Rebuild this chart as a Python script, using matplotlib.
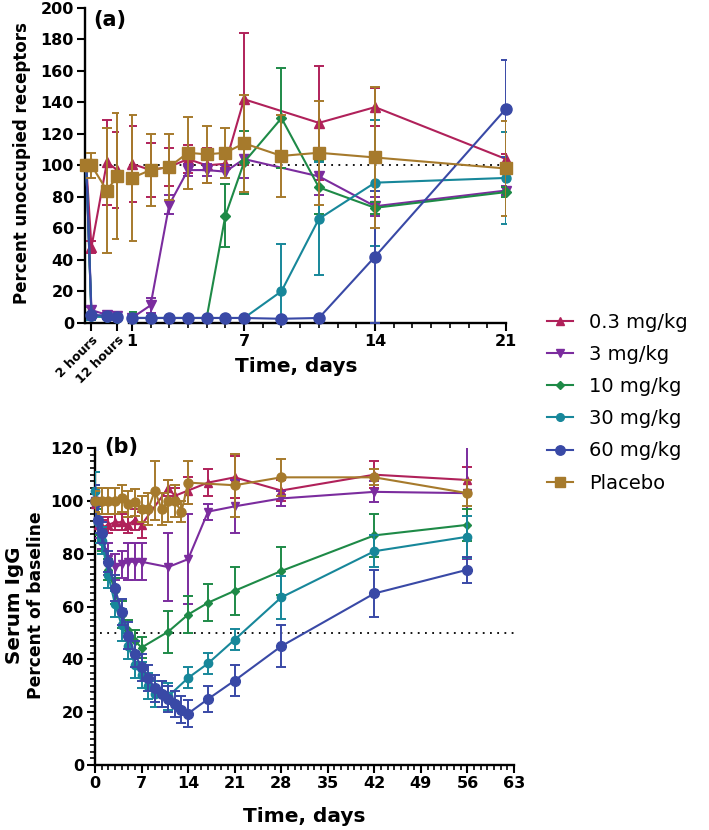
import numpy as np
import matplotlib
matplotlib.use("Agg")
import matplotlib.pyplot as plt
from matplotlib.ticker import MultipleLocator, FixedLocator

# ---------------- data ----------------
dose_labels = ["0.3 mg/kg", "3 mg/kg", "10 mg/kg", "30 mg/kg", "60 mg/kg", "Placebo"]

# Panel (a): receptor occupancy - hours segment
hours_a = [0, 2, 8, 12]
a_h_03 = [100, 48, 102, 97];   a_h_03_err = [0, 4, 27, 24]
a_h_3 = [100, 8, 5, 4];        a_h_3_err = [0, 2, 1, 1]
a_h_10 = [100, 4, 4, 3];       a_h_10_err = [0, 1, 1, 1]
a_h_30 = [100, 4, 3.5, 3];     a_h_30_err = [0, 2, 1, 1]
a_h_60 = [100, 5, 4.5, 3.5];   a_h_60_err = [0, 1, 1, 1]
a_h_pl = [100, 100, 84, 93];   a_h_pl_err = [0, 8, 40, 40]

# Panel (a): days segment
a_d_03_days = [1, 2, 3, 4, 5, 6, 7, 11, 14, 21]
a_d_03 = [101, 97, 99, 104, 100, 101, 142, 127, 137, 104]
a_d_03_err = [24, 17, 12, 9, 11, 9, 42, 36, 12, 3]
a_d_3_days = [1, 2, 3, 4, 5, 6, 7, 11, 14, 21]
a_d_3 = [3, 11, 75, 97, 97, 96, 104, 93, 74, 84]
a_d_3_err = [1, 5, 6, 4, 4, 4, 12, 12, 6, 3]
a_d_10_days = [1, 2, 3, 4, 5, 6, 7, 9, 11, 14, 21]
a_d_10 = [3, 3, 3, 3, 3, 68, 102, 130, 86, 73, 83]
a_d_10_err = [4, 0, 0, 0, 0, 20, 20, 32, 17, 4, 3]
a_d_30_days = [1, 2, 3, 4, 5, 6, 7, 9, 11, 14, 21]
a_d_30 = [3, 3, 3, 3, 3, 3, 3, 20, 66, 89, 92]
a_d_30_err = [0, 0, 0, 0, 0, 0, 0, 30, 36, 40, 29]
a_d_60_days = [1, 2, 3, 4, 5, 6, 7, 9, 11, 14, 21]
a_d_60 = [3, 3, 3, 3, 3, 3, 3, 2.5, 3, 42, 136]
a_d_60_err = [0, 0, 0, 0, 0, 0, 0, 0, 0, 42, 31]
a_d_pl_days = [1, 2, 3, 4, 5, 6, 7, 9, 11, 14, 21]
a_d_pl = [92, 97, 99, 108, 107, 108, 114, 106, 108, 105, 98]
a_d_pl_err = [40, 23, 21, 23, 18, 16, 31, 26, 33, 45, 30]

# Panel (b): serum IgG, percent of baseline
b_03_days = [0, 0.5, 1, 2, 3, 4, 5, 6, 7, 11, 12, 14, 17, 21, 28, 42, 56]
b_03 = [99, 91, 90, 91, 92, 92, 91, 93, 91, 105, 102, 104, 107, 109, 104, 110, 108]
b_03_err = [4, 4, 3, 3, 3, 3, 3, 4, 5, 3, 3, 5, 5, 8, 4, 5, 5]
b_3_days = [0, 0.5, 1, 2, 3, 4, 5, 6, 7, 11, 14, 17, 21, 28, 42, 56]
b_3 = [100, 90, 86, 78, 75, 76, 77, 77, 77, 75, 78, 96, 98, 101, 103.5, 103]
b_3_err = [5, 4, 4, 6, 5, 5, 7, 7, 7, 13, 17, 3, 10, 3, 4, 25]
b_10_days = [0, 0.5, 1, 2, 3, 4, 5, 6, 7, 11, 14, 17, 21, 28, 42, 56]
b_10 = [100, 92, 85, 74, 66, 57, 51, 47, 44.5, 50.5, 57, 61.5, 66, 73.5, 87, 91]
b_10_err = [6, 5, 4, 4, 5, 5, 4, 4, 4, 8, 7, 7, 9, 9, 8, 6]
b_30_days = [0, 0.5, 1, 2, 3, 4, 5, 6, 7, 8, 9, 10, 11, 14, 17, 21, 28, 42, 56]
b_30 = [104, 92, 85, 72, 61, 53, 45, 38, 34, 30, 27, 27, 26, 33, 38.5, 47.5, 63.5, 81, 86.5]
b_30_err = [7, 8, 5, 5, 5, 6, 5, 5, 5, 5, 5, 5, 5, 4, 4, 4, 8, 6, 8]
b_60_days = [0, 0.5, 1, 2, 3, 4, 5, 6, 7, 8, 9, 10, 11, 12, 13, 14, 17, 21, 28, 42, 56]
b_60 = [100, 93, 88, 77, 67, 58, 49, 42, 37, 33, 29, 27, 25, 23, 21, 19.5, 25, 32, 45, 65, 74]
b_60_err = [6, 5, 4, 4, 5, 5, 5, 5, 5, 5, 5, 5, 5, 5, 5, 5, 5, 6, 8, 9, 5]
b_pl_days = [0, 1, 2, 3, 4, 5, 6, 7, 8, 9, 10, 11, 12, 13, 14, 21, 28, 42, 56]
b_pl = [100, 100, 100, 100, 101, 99, 99.5, 97, 97, 104, 97, 100, 100, 96, 107, 106, 109, 109, 103]
b_pl_err = [4, 5, 5, 5, 5, 5, 5, 5, 6, 11, 6, 8, 6, 4, 8, 12, 7, 3, 5]

# ---------------- styles ----------------
colors = ["#B0215A", "#7B2C9E", "#1E8A47", "#17879A", "#3949A6", "#A67A2C"]
markers_a = ["^", "v", "D", "o", "o", "s"]
markers_b = ["^", "v", "D", "o", "o", "o"]
msizes_a = [7, 7, 5, 6.5, 8, 8]
msizes_b = [6, 6, 4.5, 6, 7, 6.5]

plt.rcParams["font.family"] = ["DejaVu Sans"]
plt.rcParams["font.weight"] = "bold"

W, H = 709, 830
fig = plt.figure(figsize=(W / 100, H / 100), dpi=100)


def rect(x0, x1, ytop, ybot):
    return [x0 / W, 1 - ybot / H, (x1 - x0) / W, (ybot - ytop) / H]


ax_h = fig.add_axes(rect(85, 118, 8, 322.7))
ax_d = fig.add_axes(rect(129, 506, 8, 322.7))
ax_b = fig.add_axes(rect(95, 514, 448.3, 765))


def draw(ax, x, y, e, i, markers, msizes, lw=1.5):
    c = ax.errorbar(x, y, yerr=e, color=colors[i], marker=markers[i],
                    ms=msizes[i], lw=lw, elinewidth=1.4, capsize=3.5,
                    capthick=1.4, zorder=3 + i)
    c.lines[0].set_clip_on(False)
    return c.lines[0]


# panel (a) hours
a_hours_sets = [(a_h_03, a_h_03_err), (a_h_3, a_h_3_err), (a_h_10, a_h_10_err),
                (a_h_30, a_h_30_err), (a_h_60, a_h_60_err), (a_h_pl, a_h_pl_err)]
for i, (v, e) in enumerate(a_hours_sets):
    draw(ax_h, hours_a, v, e, i, markers_a, msizes_a)

a_day_sets = [(a_d_03_days, a_d_03, a_d_03_err), (a_d_3_days, a_d_3, a_d_3_err),
              (a_d_10_days, a_d_10, a_d_10_err), (a_d_30_days, a_d_30, a_d_30_err),
              (a_d_60_days, a_d_60, a_d_60_err), (a_d_pl_days, a_d_pl, a_d_pl_err)]
for i, (d, v, e) in enumerate(a_day_sets):
    draw(ax_d, d, v, e, i, markers_a, msizes_a)

b_sets = [(b_03_days, b_03, b_03_err), (b_3_days, b_3, b_3_err),
          (b_10_days, b_10, b_10_err), (b_30_days, b_30, b_30_err),
          (b_60_days, b_60, b_60_err), (b_pl_days, b_pl, b_pl_err)]
for i, (d, v, e) in enumerate(b_sets):
    draw(ax_b, d, v, e, i, markers_b, msizes_b)

# reference lines
dot = (0, (1, 3))
ax_h.axhline(100, color="black", lw=1.3, ls=dot, zorder=2)
ax_d.axhline(100, color="black", lw=1.3, ls=dot, zorder=2)
ax_b.hlines(50, 0.8, 63, color="black", lw=1.3, ls=dot, zorder=2)

# axes formatting
for ax in (ax_h, ax_d, ax_b):
    ax.set_facecolor("none")
    for s in ("top", "right"):
        ax.spines[s].set_visible(False)
    for s in ("left", "bottom"):
        ax.spines[s].set_linewidth(1.7)
    ax.tick_params(which="major", direction="out", length=6, width=1.5,
                   labelsize=11.5, pad=2)
    ax.tick_params(which="minor", direction="out", length=3.5, width=1.2)

ax_h.set_ylim(0, 200)
ax_d.set_ylim(0, 200)
ax_h.set_xlim(-0.5, 12.3)
ax_d.set_xlim(0.85, 21)
ax_h.yaxis.set_major_locator(MultipleLocator(20))
ax_h.set_xticks([2, 12])
ax_h.set_xticklabels(["2 hours", "12 hours"], rotation=45, ha="right",
                     va="top", rotation_mode="anchor", fontsize=9)
ax_d.spines["left"].set_visible(False)
ax_d.set_yticks([])
ax_d.set_xticks([1, 7, 14, 21])
ax_d.xaxis.set_minor_locator(MultipleLocator(1))

ax_b.set_xlim(0, 63)
ax_b.set_ylim(0, 120)
ax_b.xaxis.set_major_locator(MultipleLocator(7))
ax_b.xaxis.set_minor_locator(MultipleLocator(1))
ax_b.yaxis.set_major_locator(MultipleLocator(20))
ax_b.yaxis.set_minor_locator(MultipleLocator(2.5))

# texts
fig.text(110 / W, 1 - 20 / H, "(a)", fontsize=15, weight="bold", ha="center", va="center")
fig.text(121 / W, 1 - 447 / H, "(b)", fontsize=15, weight="bold", ha="center", va="center")
fig.text(22 / W, 1 - 163 / H, "Percent unoccupied receptors", rotation=90,
         fontsize=12, weight="bold", ha="center", va="center")
fig.text(296.7 / W, 1 - 366 / H, "Time, days", fontsize=14.5, weight="bold",
         ha="center", va="center")
fig.text(304 / W, 1 - 816 / H, "Time, days", fontsize=14.5, weight="bold",
         ha="center", va="center")
fig.text(15 / W, 1 - 605 / H, "Serum IgG", rotation=90, fontsize=14.3,
         weight="bold", ha="center", va="center")
fig.text(36 / W, 1 - 605 / H, "Percent of baseline", rotation=90, fontsize=12.3,
         weight="bold", ha="center", va="center")

# legend
handles = []
for i in range(len(dose_labels)):
    h, = ax_d.plot([], [], color=colors[i], marker=markers_a[i], ms=msizes_a[i] * 0.85, lw=1.5)
    handles.append(h)
fig.legend(handles, dose_labels, loc="upper left",
           bbox_to_anchor=(531 / W, 1 - 297 / H), frameon=False,
           prop={"size": 14, "weight": "normal"}, handlelength=1.35,
           handletextpad=0.85, labelspacing=0.68, borderpad=0.3)

fig.savefig("out.png", dpi=100)
